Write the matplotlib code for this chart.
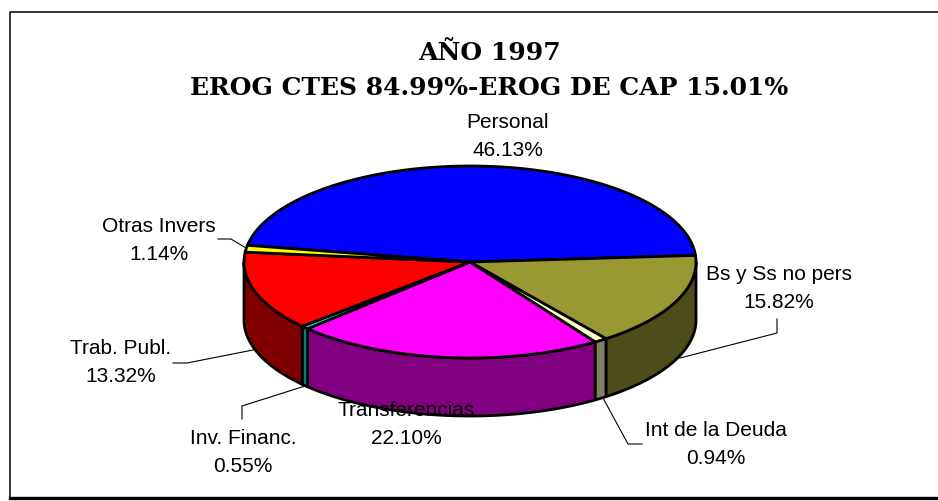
import numpy as np
import matplotlib
matplotlib.use("Agg")
import matplotlib.pyplot as plt
from matplotlib.patches import Polygon

categorias = ["Personal", "Bs y Ss no pers", "Int de la Deuda", "Transferencias",
              "Inv. Financ.", "Trab. Publ.", "Otras Invers"]
valores = [46.13, 15.82, 0.94, 22.10, 0.55, 13.32, 1.14]
titulo = ["AÑO 1997", "EROG CTES 84.99%-EROG DE CAP 15.01%"]

color_top = ["#0000FF", "#999933", "#FFFFCC", "#FF00FF", "#00FFFF", "#FF0000", "#FFFF00"]
color_side = ["#000080", "#4D4D19", "#808066", "#800080", "#008080", "#800000", "#808000"]

# posicion de las etiquetas, en pixeles
label_x = [508, 779, 716, 406, 243, 121, 159]
label_y = [137, 289, 445, 425, 452, 363, 240]
# lineas guia
guias = [
    None,
    [(777, 319), (777, 333), (680, 358)],
    [(642, 444), (628, 444), (603, 398)],
    None,
    [(242, 419), (242, 406), (305, 386)],
    [(173, 363), (187, 363), (253, 350)],
    [(218, 239), (231, 239), (246, 248)],
]

cx, cy = 470, 262
a, b = 226, 96
depth = 58
inicio = 170.0

fig = plt.figure(figsize=(9.38, 5.01), dpi=100)
ax = fig.add_axes([0, 0, 1, 1])
ax.set_xlim(0, 938)
ax.set_ylim(501, 0)
ax.axis("off")

# marco, sin lado derecho: se sale de la imagen
ax.plot([938, 9.5, 9.5], [12, 12, 497], color="black", lw=1.1, zorder=1)
ax.plot([9.5, 938], [497.5, 497.5], color="black", lw=2.4, zorder=1)


def arco(t1, t2, dy=0):
    t = np.radians(np.linspace(t1, t2, max(int(abs(t2 - t1)) * 2, 2) + 1))
    return np.column_stack([cx + a * np.cos(t), cy - b * np.sin(t) + dy])


# angulos de cada porcion, sentido horario
angulos = inicio - np.cumsum([0] + valores) * 3.6

for i in range(len(valores)):
    t1, t2 = angulos[i], angulos[i + 1]
    # caras laterales, solo la parte de adelante (180 a 360 grados)
    for k in (0, -360):
        s1 = min(t1 + k, -0.0)
        s2 = max(t2 + k, -180.0)
        if s1 > s2:
            lado = np.vstack([arco(s1, s2), arco(s2, s1, depth)])
            ax.add_patch(Polygon(lado, fc=color_side[i], ec="black", lw=2,
                                 joinstyle="round", zorder=3))

for i in range(len(valores)):
    t1, t2 = angulos[i], angulos[i + 1]
    cara = np.vstack([[(cx, cy)], arco(t1, t2)])
    ax.add_patch(Polygon(cara, fc=color_top[i], ec="black", lw=2,
                         joinstyle="round", zorder=4))

for g in guias:
    if g is not None:
        ax.plot(*zip(*g), color="black", lw=0.8, zorder=2)

for i in range(len(valores)):
    ax.text(label_x[i], label_y[i], f"{categorias[i]}\n{valores[i]:.2f}%", ha="center", va="center",
            family="Liberation Sans", fontsize=15, linespacing=1.6, color="black", zorder=6)

ax.text(489, 53, titulo[0], ha="center", va="center", family="DejaVu Serif",
        weight="bold", fontsize=18, zorder=6)
ax.text(489, 88, titulo[1], ha="center", va="center", family="DejaVu Serif",
        weight="bold", fontsize=18, zorder=6)

fig.savefig("out.png", dpi=100)
